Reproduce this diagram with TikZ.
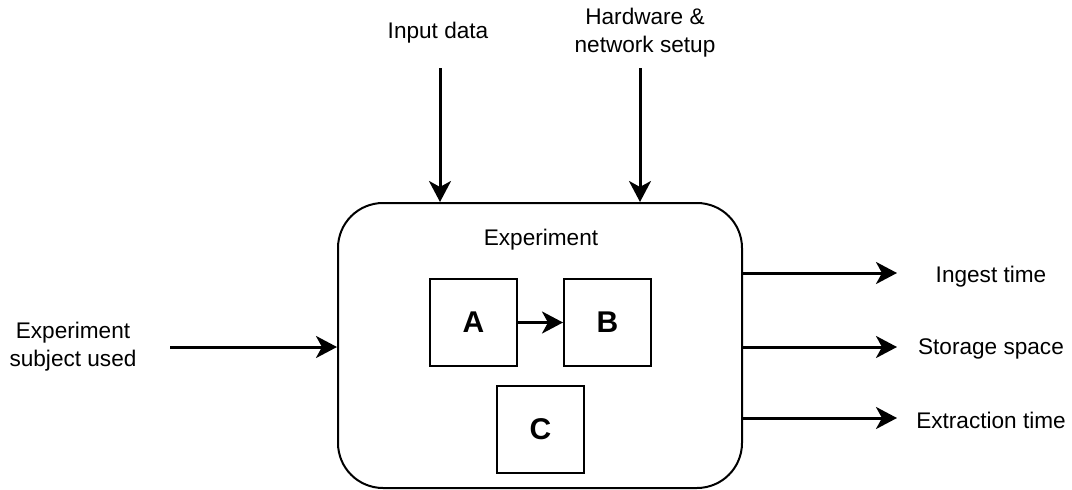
\documentclass[tikz,border=0pt]{standalone}
\usepackage{fontspec}
\setmainfont{Liberation Sans}
\usetikzlibrary{arrows.meta}
\begin{document}
\begin{tikzpicture}[x=1pt,y=-1pt,
  lbl/.style={inner sep=0pt,align=center,font=\fontsize{22.6}{28}\selectfont},
  flow/.style={line width=3pt,-{Stealth[length=21pt,width=22pt,inset=6pt]}},
  subbox/.style={draw,line width=2pt,minimum width=87pt,minimum height=87pt,inner sep=0pt,
    font=\fontsize{30}{30}\selectfont\bfseries},
  mainbox/.style={draw,line width=2pt,rounded corners=45pt,minimum width=404pt,minimum height=285pt,inner sep=0pt}]
\useasboundingbox (0,0) rectangle (1072,490);

% the experiment block with its three components
\node[mainbox] (exp) at (540,345.5) {};
\node[lbl] (title) at (541,240) {Experiment};
\node[subbox] (A) at (473.5,322.5) {A};
\node[subbox] (B) at (607.5,322.5) {B};
\node[subbox] (C) at (540.5,429.5) {C};
\draw[flow] (A) -- (B);

% inputs from above
\node[lbl] (inData) at (438,33) {Input data};
\node[lbl] (hw) at (645,33) {Hardware \&\\network setup};
\coordinate (t1) at (440,68);
\coordinate (t2) at (640,68);
\draw[flow] (t1) -- (t1 |- exp.north);
\draw[flow] (t2) -- (t2 |- exp.north);

% input from the left
\node[lbl] (subj) at (73,347) {Experiment\\subject used};
\coordinate (l1) at (170,347);
\draw[flow] (l1) -- (l1 -| exp.west);

% measured outputs
\coordinate (o1) at (897,273);
\coordinate (o2) at (897,347);
\coordinate (o3) at (897,418);
\draw[flow] (o1 -| exp.east) -- (o1);
\draw[flow] (o2 -| exp.east) -- (o2);
\draw[flow] (o3 -| exp.east) -- (o3);
\node[lbl] (r1) at (991,277) {Ingest time};
\node[lbl] (r2) at (991,349) {Storage space};
\node[lbl] (r3) at (991,420) {Extraction time};
\end{tikzpicture}
\end{document}
